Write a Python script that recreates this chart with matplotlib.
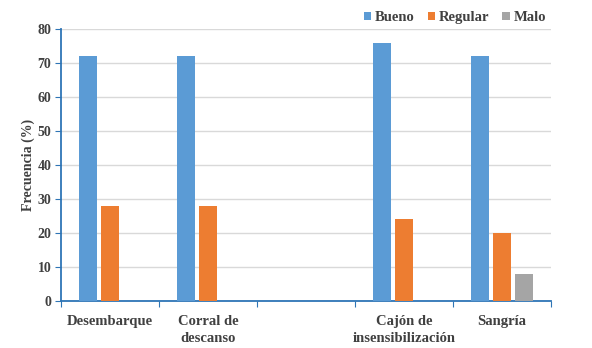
import matplotlib
matplotlib.use("Agg")
import matplotlib.pyplot as plt
import numpy as np

categories = ["Desembarque", "Corral de\ndescanso", "", "Cajón de\ninsensibilización", "Sangría"]
series_names = ["Bueno", "Regular", "Malo"]
bueno = [72, 72, np.nan, 76, 72]
regular = [28, 28, np.nan, 24, 20]
malo = [np.nan, np.nan, np.nan, np.nan, 8]
colors = ["#5B9BD5", "#ED7D31", "#A5A5A5"]
yticks = [0, 10, 20, 30, 40, 50, 60, 70, 80]

plt.rcParams['font.family'] = ['Liberation Serif', 'DejaVu Serif']
plt.rcParams['font.weight'] = 'bold'

fig = plt.figure(figsize=(5.92, 3.48), dpi=100)
ax = fig.add_axes([61/592, 1 - 301/348, (551-61)/592, (301-29)/348])

x = np.arange(len(categories))
w = 0.175
offs = [-0.225, 0.0, 0.225]
for vals, name, c, o in zip([bueno, regular, malo], series_names, colors, offs):
    ax.bar(x + o, vals, width=w, color=c, label=name, zorder=3)

ax.set_xlim(-0.5, len(categories) - 0.5)
ax.set_ylim(0, 80)
ax.set_yticks(yticks)
ax.set_yticklabels([str(v) for v in yticks], fontsize=10, fontweight='bold', color='#404040')
ax.set_xticks(np.arange(len(categories) + 1) - 0.5)
ax.set_xticklabels([])
ax.set_xticks(x, minor=True)
ax.set_xticklabels(categories, minor=True, fontsize=10.5, fontweight='bold', color='#404040', linespacing=1.45)
ax.tick_params(axis='x', which='minor', length=0, pad=10)
ax.tick_params(axis='x', which='major', length=4, color='#2E75B6', direction='out')
ax.tick_params(axis='y', length=4, color='#2E75B6', direction='out', pad=3)

ax.grid(axis='y', color='#D9D9D9', linewidth=1.0, zorder=0)
for s in ['top', 'right']:
    ax.spines[s].set_visible(False)
for s in ['left', 'bottom']:
    ax.spines[s].set_color('#2E75B6')
    ax.spines[s].set_linewidth(1.3)

ax.set_ylabel("Frecuencia (%)", fontsize=10, fontweight='bold', color='#404040', labelpad=2)

leg = ax.legend(loc='lower right', bbox_to_anchor=(1.0, 1.0), ncol=3, frameon=False,
                fontsize=10.5, handlelength=0.5, handleheight=0.5, handletextpad=0.25,
                columnspacing=0.9, borderaxespad=0.15, borderpad=0.2)
for t in leg.get_texts():
    t.set_color('#404040')
    t.set_fontweight('bold')

fig.savefig("out.png", dpi=100)
